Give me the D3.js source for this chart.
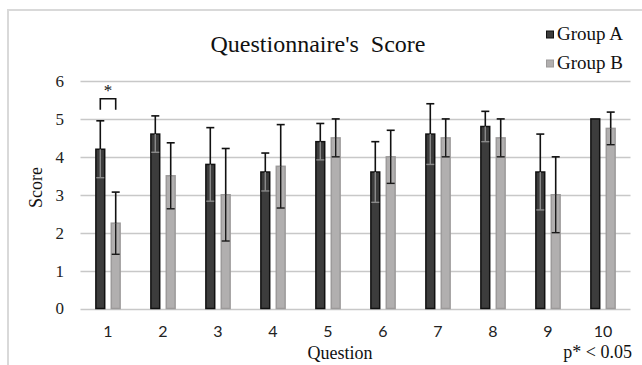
<!DOCTYPE html>
<html><head><meta charset="utf-8">
<script src="https://cdn.jsdelivr.net/npm/d3@7"></script>
<style>html,body{margin:0;padding:0;background:#fff;}svg{display:block;}</style>
</head><body>
<div id="chart"></div>
<script>
const questions = ["1","2","3","4","5","6","7","8","9","10"];
const groupA = [4.2, 4.6, 3.8, 3.6, 4.4, 3.6, 4.6, 4.8, 3.6, 5.0];
const groupAErr = [0.75, 0.48, 0.97, 0.5, 0.48, 0.8, 0.8, 0.4, 1.0, 0];
const groupB = [2.25, 3.5, 3.0, 3.75, 4.5, 4.0, 4.5, 4.5, 3.0, 4.75];
const groupBErr = [0.82, 0.87, 1.22, 1.1, 0.5, 0.7, 0.5, 0.5, 1.0, 0.43];
const yTicks = [0,1,2,3,4,5,6];
const seriesNames = ["Group A","Group B"];

const W = 642, H = 365;
const svg = d3.select("#chart").append("svg").attr("width", W).attr("height", H);
const serif = "'Liberation Serif','Times New Roman',serif";
const sans = "Lato,'Open Sans',sans-serif";

// frame
svg.append("rect").attr("x",8).attr("y",10).attr("width",W).attr("height",H)
  .attr("fill","none").attr("stroke","#d9d9d9").attr("stroke-width",2);

const x0 = d3.scaleBand().domain(questions).range([80.5, 630.5]).paddingInner(0).paddingOuter(0);
const x1 = d3.scaleBand().domain(seriesNames).range([0, x0.bandwidth()]).paddingInner(0.33).paddingOuter(0.95);
const y = d3.scaleLinear().domain([0,6]).range([308.5, 81]);

// gridlines
svg.append("g").selectAll("line").data(yTicks).join("line")
  .attr("x1",80.5).attr("x2",630.5)
  .attr("y1",d=>Math.round(y(d))+0.5).attr("y2",d=>Math.round(y(d))+0.5)
  .attr("stroke","#c8c8c8").attr("stroke-width",1.5);

// y axis labels
const yAxis = d3.axisLeft(y).tickValues(yTicks).tickSize(0).tickPadding(0).tickFormat(d3.format("d"));
const ya = svg.append("g").attr("transform","translate(64,0)").call(yAxis);
ya.select(".domain").remove();
ya.selectAll("text").attr("font-family",serif).attr("font-size",17).attr("fill","#222");

// x axis labels
const xAxis = d3.axisBottom(x0).tickSize(0).tickPadding(0);
const xa = svg.append("g").attr("transform","translate(0,326)").call(xAxis);
xa.select(".domain").remove();
xa.selectAll("text").attr("font-family",sans).attr("font-size",16).attr("fill","#222").attr("dy","0.71em");

const data = questions.map((q,i)=>({q, vals:[
  {s:"Group A", v:groupA[i], e:groupAErr[i]},
  {s:"Group B", v:groupB[i], e:groupBErr[i]}]}));

const fills = {"Group A":"#3c3c3c","Group B":"#b1afaf"};
const strokes = {"Group A":"#111","Group B":"#9c9a9a"};
const innerErr = {"Group A":"#8a8a8a","Group B":"#1a1a1a"};

const gq = svg.append("g").selectAll("g").data(data).join("g")
  .attr("transform", d=>`translate(${x0(d.q)},0)`);

gq.selectAll("rect").data(d=>d.vals).join("rect")
  .attr("x", d=>x1(d.s)+0.75).attr("width", x1.bandwidth()-1.5)
  .attr("y", d=>y(d.v)).attr("height", d=>y(0)-y(d.v))
  .attr("fill", d=>fills[d.s]).attr("stroke", d=>strokes[d.s]).attr("stroke-width",1.5);

// error bars
const eb = gq.selectAll("g.err").data(d=>d.vals.filter(v=>v.e>0)).join("g").attr("class","err");
const cx = d=>x1(d.s)+x1.bandwidth()/2;
eb.append("line").attr("x1",cx).attr("x2",cx).attr("y1",d=>y(d.v+d.e)).attr("y2",d=>y(d.v))
  .attr("stroke","#111").attr("stroke-width",1.6);
eb.append("line").attr("x1",cx).attr("x2",cx).attr("y1",d=>y(d.v)).attr("y2",d=>y(d.v-d.e))
  .attr("stroke",d=>innerErr[d.s]).attr("stroke-width",1.4);
eb.append("line").attr("x1",d=>cx(d)-4).attr("x2",d=>cx(d)+4).attr("y1",d=>y(d.v+d.e)).attr("y2",d=>y(d.v+d.e))
  .attr("stroke","#111").attr("stroke-width",1.6);
eb.append("line").attr("x1",d=>cx(d)-4).attr("x2",d=>cx(d)+4).attr("y1",d=>y(d.v-d.e)).attr("y2",d=>y(d.v-d.e))
  .attr("stroke",d=>innerErr[d.s]).attr("stroke-width",1.4);

// significance bracket on Q1
const bx1 = x0("1")+cx({s:"Group A"}), bx2 = x0("1")+cx({s:"Group B"});
svg.append("path").attr("d",`M${bx1},${y(5.24)}V${y(5.53)}H${bx2}V${y(5.24)}`)
  .attr("fill","none").attr("stroke","#111").attr("stroke-width",1.6);
svg.append("text").attr("x",(bx1+bx2)/2).attr("y",y(5.53)-3).attr("text-anchor","middle")
  .attr("font-family",serif).attr("font-size",17).attr("fill","#111").text("*");

// title
svg.append("text").attr("x",318).attr("y",52).attr("text-anchor","middle")
  .attr("font-family",serif).attr("font-size",24).attr("fill","#111").text("Questionnaire's\u00a0 Score");

// legend
const lg = svg.append("g").selectAll("g").data(seriesNames).join("g")
  .attr("transform",(d,i)=>`translate(546,${40 + i*29})`);
lg.append("rect").attr("x",0.5).attr("y",-9).attr("width",7).attr("height",7)
  .attr("fill",d=>fills[d]).attr("stroke",d=>strokes[d]).attr("stroke-width",1);
lg.append("text").attr("x",11).attr("y",0).attr("font-family",serif).attr("font-size",19)
  .attr("fill","#111").text(d=>d);

// axis titles
svg.append("text").attr("transform","translate(42,187.5) rotate(-90)").attr("text-anchor","middle")
  .attr("font-family",serif).attr("font-size",18).attr("fill","#111").text("Score");
svg.append("text").attr("x",340).attr("y",359).attr("text-anchor","middle")
  .attr("font-family",serif).attr("font-size",18).attr("fill","#111").text("Question");
svg.append("text").attr("x",632).attr("y",358).attr("text-anchor","end")
  .attr("font-family",serif).attr("font-size",18).attr("fill","#111").text("p* < 0.05");
</script>
</body></html>
